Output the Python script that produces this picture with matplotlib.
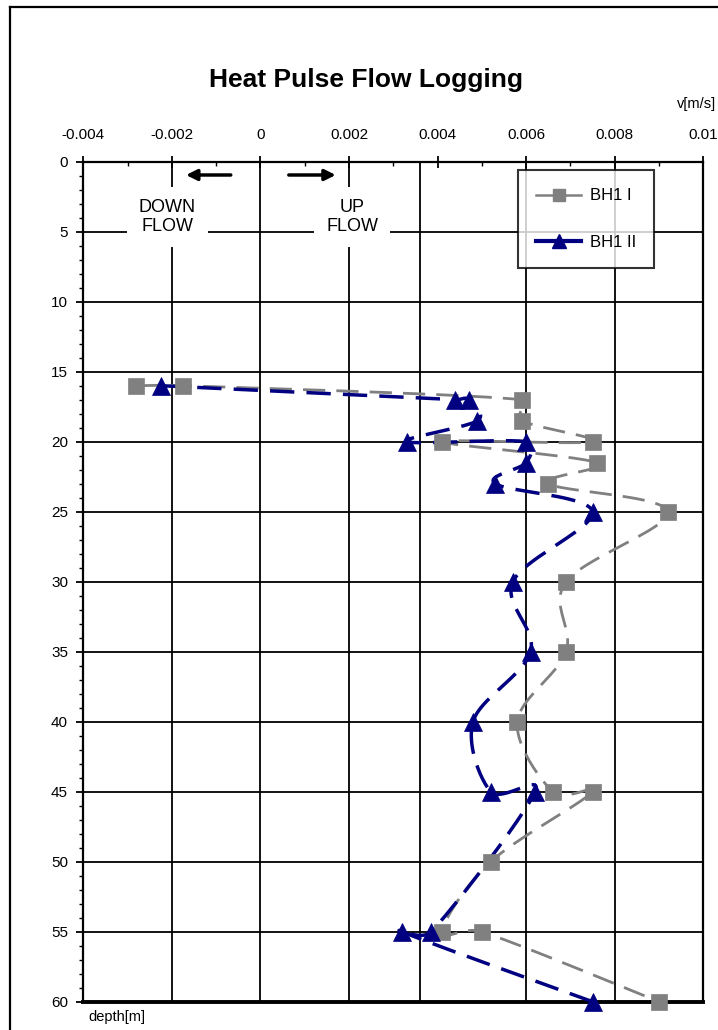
import numpy as np
import matplotlib
matplotlib.use("Agg")
import matplotlib.pyplot as plt
from matplotlib.lines import Line2D

plt.rcParams['font.family'] = ['Liberation Sans', 'DejaVu Sans']

# BH1 I  (grey squares)
depth_1 = [16, 16, 17, 18.5, 20, 20, 21.5, 23, 25, 30, 35, 40, 45, 45, 50, 55, 55, 60]
v_1 = [-0.0028, -0.00175, 0.0059, 0.0059, 0.0075, 0.0041, 0.0076, 0.0065, 0.0092,
       0.0069, 0.0069, 0.0058, 0.0066, 0.0075, 0.0052, 0.0041, 0.0050, 0.0090]
# BH1 II (blue triangles)
depth_2 = [16, 17, 17, 18.5, 20, 20, 21.5, 23, 25, 30, 35, 40, 45, 45, 55, 55, 60]
v_2 = [-0.00225, 0.0044, 0.0047, 0.0049, 0.0033, 0.0060, 0.0060, 0.0053, 0.0075,
       0.0057, 0.0061, 0.0048, 0.0052, 0.0062, 0.00386, 0.0032, 0.0075]

xticks = [-0.004, -0.002, 0, 0.002, 0.004, 0.006, 0.008, 0.01]
xlabels = ['-0.004', '-0.002', '0', '0.002', '0.004', '0.006', '0.008', '0.01']
yticks = list(range(0, 61, 5))
hgrid = list(range(5, 60, 5))
vgrid = [-0.002, 0, 0.002, 0.0036, 0.006, 0.008]

W, H = 718, 1030
XR, YR = 0.014, 60.0
PXW, PXH = 620, 840


def smooth(xv, yv, n=25):
    # smoothed line like excel (catmull-rom bezier, arms capped), in screen space
    P = np.column_stack([np.asarray(xv) / XR * PXW, np.asarray(yv) / YR * PXH])
    m = len(P)
    out = []
    t = np.linspace(0, 1, n)[:, None]

    def arm(v, L):
        nv = np.hypot(*v)
        lim = 0.5 * L
        return v * (lim / nv) if nv > lim else v

    for i in range(m - 1):
        p0 = P[i - 1] if i > 0 else P[i]
        p1, p2 = P[i], P[i + 1]
        p3 = P[i + 2] if i + 2 < m else P[i + 1]
        L = np.hypot(*(p2 - p1))
        c1 = p1 + arm((p2 - p0) / 6, L)
        c2 = p2 - arm((p3 - p1) / 6, L)
        seg = (1 - t) ** 3 * p1 + 3 * (1 - t) ** 2 * t * c1 + 3 * (1 - t) * t ** 2 * c2 + t ** 3 * p2
        out.append(seg if i == 0 else seg[1:])
    pts = np.vstack(out)
    return pts[:, 0] * XR / PXW, pts[:, 1] * YR / PXH


fig = plt.figure(figsize=(W / 100, H / 100), dpi=100)
ax = fig.add_axes([83.3 / W, 1 - 1001.7 / H, PXW / W, PXH / H])
ax.set_xlim(-0.004, 0.01)
ax.set_ylim(60, 0)

for d in hgrid:
    ax.axhline(d, color='black', lw=1.3, zorder=1)
for v in vgrid:
    ax.axvline(v, color='black', lw=1.3, zorder=1)

grey = '#808080'
navy = '#000080'
sx, sy = smooth(v_1, depth_1)
ax.plot(sx, sy, color=grey, lw=2.0, dashes=(8, 4), zorder=3)
sx, sy = smooth(v_2, depth_2)
ax.plot(sx, sy, color=navy, lw=2.5, dashes=(7, 3.5), zorder=4)
ax.plot(v_1, depth_1, ls='none', marker='s', ms=12, color=grey, mec=grey, mew=0.5, zorder=5, clip_on=False)
ax.plot(v_2, depth_2, ls='none', marker='^', ms=12.5, color=navy, mec=navy, mew=0.5, zorder=6, clip_on=False)

# axes
ax.xaxis.tick_top()
ax.set_xticks(xticks)
ax.set_xticklabels(xlabels)
ax.set_xticks(np.arange(-0.004, 0.0101, 0.001), minor=True)
ax.set_yticks(yticks)
ax.set_yticks(range(0, 61), minor=True)
ax.tick_params(axis='x', which='major', direction='inout', length=8, width=1.3, labelsize=11, pad=10)
ax.tick_params(axis='x', which='minor', direction='in', length=3, width=1)
ax.tick_params(axis='y', which='major', direction='out', length=5, width=1.3, labelsize=11, pad=6)
ax.tick_params(axis='y', which='minor', direction='out', length=3, width=1)
for s in ['top', 'left', 'right']:
    ax.spines[s].set_linewidth(1.6)
ax.spines['bottom'].set_linewidth(2.8)

# flow direction labels
box = dict(boxstyle='square,pad=0.65', fc='white', ec='none')
ax.text(-0.0021, 3.95, 'DOWN\nFLOW', ha='center', va='center', fontsize=13, linespacing=1.15, bbox=box, zorder=2)
ax.text(0.00207, 3.95, 'UP\nFLOW', ha='center', va='center', fontsize=13, linespacing=1.15, bbox=box, zorder=2)
arr = dict(arrowstyle='-|>', lw=2.5, color='black', mutation_scale=16, shrinkA=0, shrinkB=0)
ax.annotate('', xy=(-0.00168, 0.95), xytext=(-0.00067, 0.95), arrowprops=arr)
ax.annotate('', xy=(0.0017, 0.95), xytext=(0.00064, 0.95), arrowprops=arr)

handles = [Line2D([], [], color=grey, lw=1.8, marker='s', ms=9, mec=grey),
           Line2D([], [], color=navy, lw=3.0, marker='^', ms=10, mec=navy)]
leg = ax.legend(handles, ['BH1 I', 'BH1 II'], loc='upper left',
                bbox_to_anchor=(518 / W, 1 - 170 / H), bbox_transform=fig.transFigure,
                fontsize=12, frameon=True, fancybox=False, edgecolor='black',
                handlelength=2.7, handletextpad=0.5, borderpad=1.1, labelspacing=1.9,
                borderaxespad=0)
leg.get_frame().set_linewidth(1.5)
leg.set_zorder(7)

fig.text(366 / W, 1 - 80 / H, 'Heat Pulse Flow Logging', ha='center', va='center',
         fontsize=19, fontweight='bold')
fig.text(716 / W, 1 - 104 / H, 'v[m/s]', ha='right', va='center', fontsize=10.5)
fig.text(88 / W, 1 - 1017 / H, 'depth[m]', ha='left', va='center', fontsize=10.5)

# outer frame (only left and top edges are visible)
fig.add_artist(Line2D([10 / W, 10 / W], [0, 1 - 7 / H], color='black', lw=1.6, transform=fig.transFigure))
fig.add_artist(Line2D([10 / W, 1], [1 - 7 / H, 1 - 7 / H], color='black', lw=1.6, transform=fig.transFigure))

fig.savefig('out.png', dpi=100)
